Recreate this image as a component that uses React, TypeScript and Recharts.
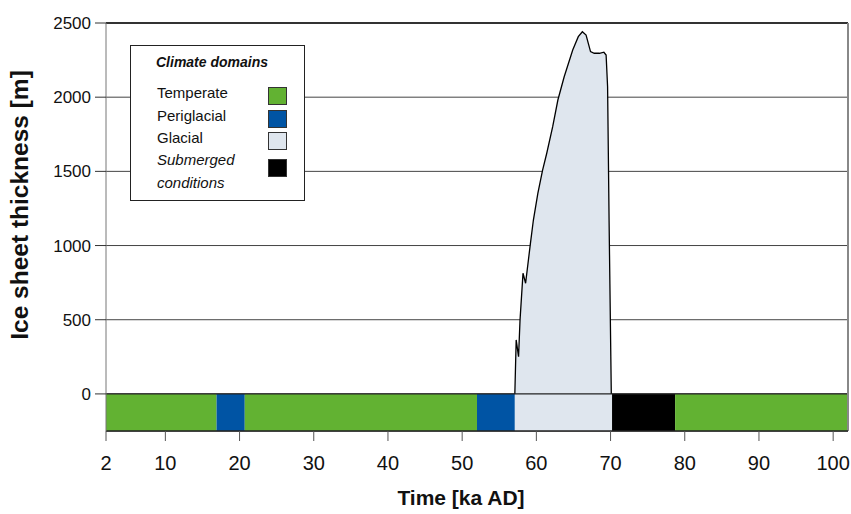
import {
  Area,
  CartesianGrid,
  ComposedChart,
  ReferenceArea,
  ReferenceLine,
  XAxis,
  YAxis,
} from "recharts";

// Ice sheet thickness profile (time in ka AD, thickness in m)
const iceTime = [
  57.1, 57.28, 57.6, 57.8, 58.2, 58.55, 59.2, 59.6, 60.2, 60.84, 61.4, 62.2, 62.9,
  63.75, 64.9, 65.65, 66.2, 66.7, 67.3, 67.8, 68.5, 69.1, 69.4, 69.6, 69.8, 70.1,
];
const iceThickness = [
  0, 364, 251, 499, 813, 746, 1015, 1172, 1352, 1509, 1622, 1801, 1981,
  2138, 2318, 2408, 2441, 2419, 2307, 2296, 2296, 2303, 2284, 2071, 1172, 0,
];

// Climate domain strip below zero
const domainStart = [2, 16.9, 20.7, 52, 57.1, 70.2, 78.7];
const domainEnd = [16.9, 20.7, 52, 57.1, 70.2, 78.7, 102];
const domainKind = ["temperate", "periglacial", "temperate", "periglacial", "glacial", "submerged", "temperate"];

const legendKeys = ["temperate", "periglacial", "glacial", "submerged"];
const legendNames = ["Temperate", "Periglacial", "Glacial", "Submerged conditions"];

const xTicks = [2, 10, 20, 30, 40, 50, 60, 70, 80, 90, 100];
const yTicks = [0, 500, 1000, 1500, 2000, 2500];

const COLORS: Record<string, string> = {
  temperate: "#62b232",
  periglacial: "#0054a4",
  glacial: "#dfe6ee",
  submerged: "#000000",
};

const FONT = "'Liberation Sans', Arial, sans-serif";

const data = iceTime.map((t, i) => ({ t, h: iceThickness[i] }));

function LegendBox() {
  return (
    <div
      style={{
        position: "absolute",
        left: 130,
        top: 45,
        width: 175,
        height: 156,
        border: "1px solid #222",
        background: "#fff",
        fontFamily: FONT,
        color: "#111",
        boxSizing: "border-box",
      }}
    >
      <div style={{ position: "absolute", left: 25, top: 8, fontSize: 14, fontWeight: 700, fontStyle: "italic" }}>
        Climate domains
      </div>
      {legendKeys.map((k, i) => {
        const top = 38 + i * 22.5;
        const sub = k === "submerged";
        return (
          <div key={k}>
            <div
              style={{
                position: "absolute",
                left: 26,
                top: sub ? top - 4 : top,
                fontSize: 15,
                lineHeight: sub ? "23px" : "18px",
                fontStyle: sub ? "italic" : "normal",
                width: 100,
              }}
            >
              {sub ? (
                <>
                  Submerged
                  <br />
                  conditions
                </>
              ) : (
                legendNames[i]
              )}
            </div>
            <div
              style={{
                position: "absolute",
                left: 137,
                top: sub ? top + 7 : top + 3,
                width: 19,
                height: 18,
                boxSizing: "border-box",
                border: "1px solid #333",
                background: COLORS[k],
              }}
            />
          </div>
        );
      })}
    </div>
  );
}

export default function App() {
  return (
    <div style={{ position: "absolute", left: 0, top: 0, width: 851, height: 514, background: "#fff" }}>
      <ComposedChart width={851} height={514} data={data} margin={{ top: 23, right: 3, bottom: 0, left: 0 }}>
        <CartesianGrid horizontal vertical={false} stroke="#444" strokeWidth={1} />
        <XAxis
          type="number"
          dataKey="t"
          domain={[2, 102]}
          ticks={xTicks}
          height={83}
          tickSize={10}
          tickMargin={15}
          stroke="#222"
          tick={{ fontSize: 20, fill: "#111", fontFamily: FONT }}
          tickLine={{ stroke: "#555" }}
          label={{
            value: "Time [ka AD]",
            position: "insideBottom",
            offset: 9,
            dx: -16,
            style: { fontSize: 21, fontWeight: 700, fill: "#111", fontFamily: FONT },
          }}
        />
        <YAxis
          type="number"
          domain={[-250, 2500]}
          ticks={yTicks}
          width={106}
          tickSize={11}
          tickMargin={4}
          stroke="#777"
          tick={{ fontSize: 17, fill: "#111", fontFamily: FONT }}
          tickLine={{ stroke: "#333" }}
          label={{
            value: "Ice sheet thickness [m]",
            angle: -90,
            position: "insideLeft",
            offset: 0,
            dx: 19,
            dy: -22,
            style: { fontSize: 24.5, fontWeight: 700, fill: "#111", fontFamily: FONT, textAnchor: "middle" },
          }}
        />
        {domainKind.map((k, i) => (
          <ReferenceArea
            key={i}
            x1={domainStart[i]}
            x2={domainEnd[i]}
            y1={-250}
            y2={0}
            fill={COLORS[k]}
            fillOpacity={1}
            stroke="none"
          />
        ))}
        <Area
          type="linear"
          dataKey="h"
          baseValue={0}
          stroke="#000"
          strokeWidth={1.3}
          fill="#dfe6ee"
          fillOpacity={1}
          isAnimationActive={false}
          dot={false}
          activeDot={false}
        />
        <ReferenceLine y={0} stroke="#222" strokeWidth={1.2} />
        <ReferenceLine y={2500} stroke="#333" strokeWidth={2} />
        <ReferenceLine x={102} stroke="#888" strokeWidth={2} />
        <ReferenceLine y={-250} stroke="#222" strokeWidth={1.2} />
      </ComposedChart>
      <LegendBox />
    </div>
  );
}
